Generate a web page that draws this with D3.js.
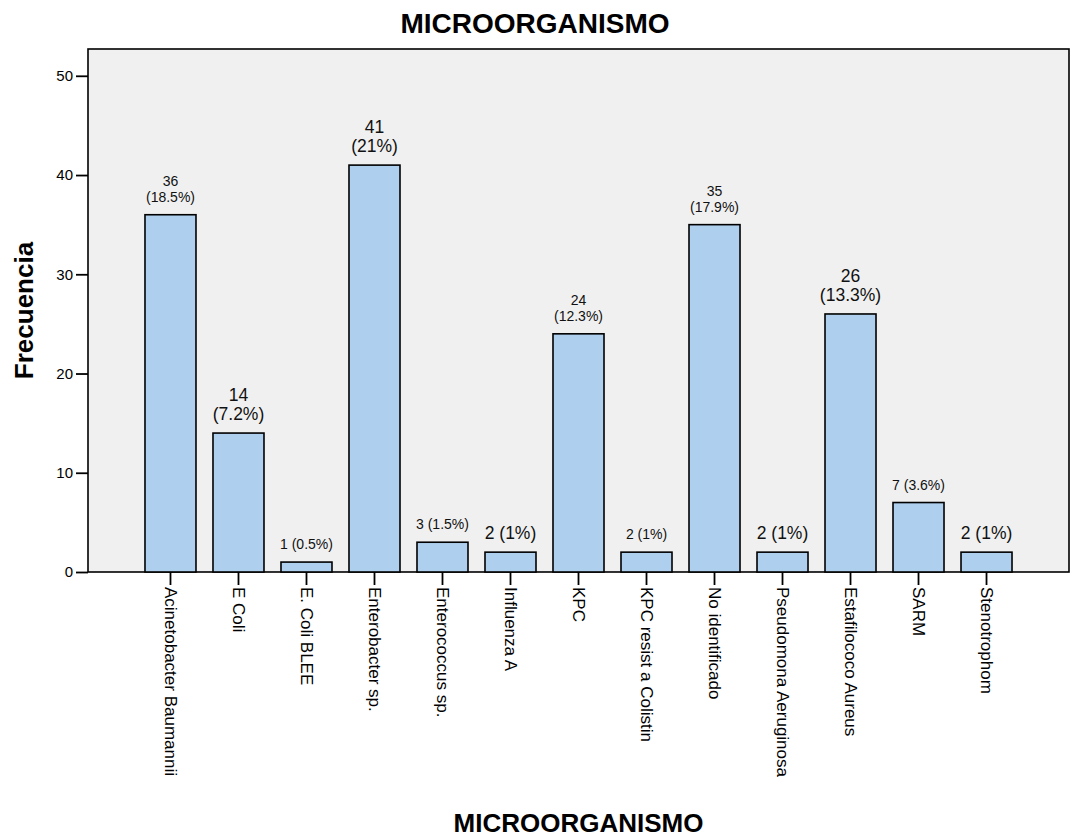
<!DOCTYPE html>
<html>
<head>
<meta charset="utf-8">
<script src="https://cdn.jsdelivr.net/npm/d3@7"></script>
<style>
  body { margin: 0; background: #ffffff; }
  text { font-family: "Liberation Sans", Arial, Helvetica, sans-serif; fill: #000; }
</style>
</head>
<body>
<svg id="chart" width="1071" height="839"></svg>
<script>
// Frequency of each microorganism
const categories = [
  "Acinetobacter Baumannii", "E Coli", "E. Coli BLEE", "Enterobacter sp.",
  "Enterococcus sp.", "Influenza A", "KPC", "KPC resist a Colistin",
  "No identificado", "Pseudomona Aeruginosa", "Estafilococo Aureus", "SARM",
  "Stenotrophom"
];
const counts = [36, 14, 1, 41, 3, 2, 24, 2, 35, 2, 26, 7, 2];
const yTicks = [0, 10, 20, 30, 40, 50];
// Bars whose value labels are printed in the larger type size
const largeLabelCategories = [
  "E Coli", "Enterobacter sp.", "Influenza A",
  "Pseudomona Aeruginosa", "Estafilococo Aureus", "Stenotrophom"
];

const total = d3.sum(counts);
const pctText = v => {
  const p = Math.round(v / total * 1000) / 10;
  return (Number.isInteger(p) ? p.toFixed(0) : p.toFixed(1)) + "%";
};

const svg = d3.select("#chart");
const plot = { left: 88, right: 1069, top: 49, bottom: 572 };

const x = d3.scaleBand()
  .domain(categories)
  .range([plot.left, plot.right])
  .paddingInner(0.25)
  .paddingOuter(0.838);

const y = d3.scaleLinear()
  .domain([0, 52.7])
  .range([plot.bottom, plot.top]);

// plot background frame
svg.append("rect")
  .attr("x", plot.left).attr("y", plot.top)
  .attr("width", plot.right - plot.left)
  .attr("height", plot.bottom - plot.top)
  .attr("fill", "#f0f0f0")
  .attr("stroke", "#000").attr("stroke-width", 1.6);

// bars
svg.append("g").selectAll("rect")
  .data(categories)
  .join("rect")
  .attr("x", d => x(d))
  .attr("y", (d, i) => y(counts[i]))
  .attr("width", x.bandwidth())
  .attr("height", (d, i) => y(0) - y(counts[i]))
  .attr("fill", "#aed0ee")
  .attr("stroke", "#000")
  .attr("stroke-width", 1.6);

// value labels: count with percentage
const labels = svg.append("g");
categories.forEach((c, i) => {
  const v = counts[i];
  const large = largeLabelCategories.includes(c);
  const size = large ? 17.5 : 14;
  const lh = large ? 19 : 16;
  const lines = v >= 10 ? [String(v), "(" + pctText(v) + ")"] : [v + " (" + pctText(v) + ")"];
  const base = y(v) - 13;
  lines.forEach((t, k) => {
    labels.append("text")
      .attr("x", x(c) + x.bandwidth() / 2)
      .attr("y", base - (lines.length - 1 - k) * lh)
      .attr("text-anchor", "middle")
      .style("font-size", size + "px")
      .style("fill", "#111")
      .text(t);
  });
});

// x axis
const gx = svg.append("g")
  .attr("transform", `translate(0,${plot.bottom})`)
  .call(d3.axisBottom(x).tickSize(13).tickPadding(2));
gx.select(".domain").remove();
gx.selectAll(".tick line").attr("stroke", "#000").attr("stroke-width", 1.8);
gx.selectAll(".tick text")
  .attr("transform", "rotate(90)")
  .attr("x", 15).attr("y", 0).attr("dy", "0.35em")
  .style("text-anchor", "start")
  .style("font-size", "17px")
  .style("font-family", '"Liberation Sans", Arial, sans-serif');

// y axis
const gy = svg.append("g")
  .attr("transform", `translate(${plot.left},0)`)
  .call(d3.axisLeft(y).tickValues(yTicks).tickSize(12).tickPadding(3));
gy.select(".domain").remove();
gy.selectAll(".tick line").attr("stroke", "#000").attr("stroke-width", 1.8);
gy.selectAll(".tick text")
  .style("font-size", "15px")
  .style("font-family", '"Liberation Sans", Arial, sans-serif');

// titles
svg.append("text")
  .attr("x", 535).attr("y", 33)
  .attr("text-anchor", "middle")
  .style("font-size", "28px").style("font-weight", "bold")
  .text("MICROORGANISMO");

svg.append("text")
  .attr("x", (plot.left + plot.right) / 2).attr("y", 832)
  .attr("text-anchor", "middle")
  .style("font-size", "26px").style("font-weight", "bold")
  .text("MICROORGANISMO");

svg.append("text")
  .attr("transform", `translate(33,${(plot.top + plot.bottom) / 2}) rotate(-90)`)
  .attr("text-anchor", "middle")
  .style("font-size", "26px").style("font-weight", "bold")
  .text("Frecuencia");
</script>
</body>
</html>
